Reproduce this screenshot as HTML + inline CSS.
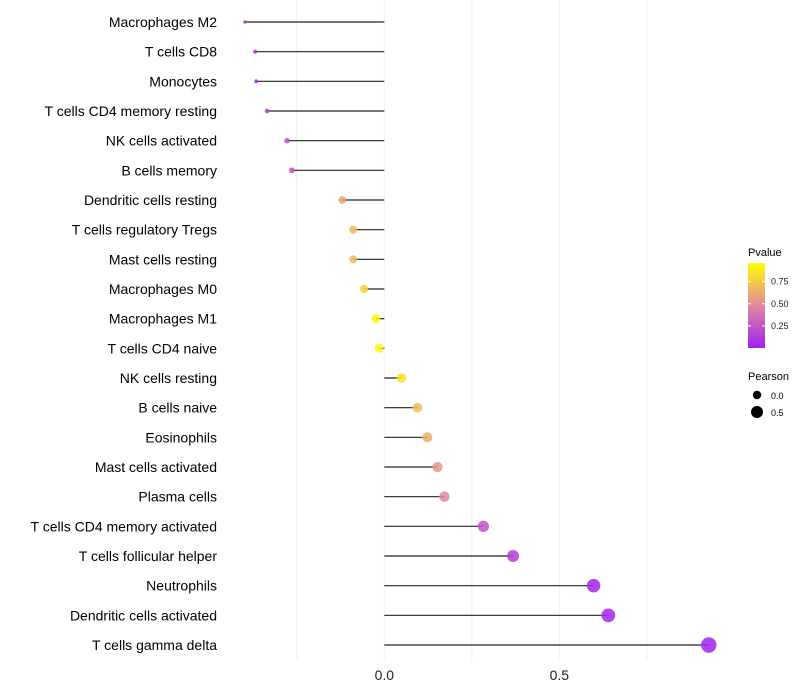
<!DOCTYPE html>
<html><head><meta charset="utf-8"><style>
body{margin:0;background:#fff;}
svg{display:block;font-family:"Liberation Sans",sans-serif;}
</style></head><body>
<svg id="chart" width="800" height="700">
<defs>
<linearGradient id="pg" x1="0" y1="1" x2="0" y2="0">
<stop offset="0" stop-color="#a020f0"/><stop offset="0.5" stop-color="#e0889f"/><stop offset="1" stop-color="#ffff00"/>
</linearGradient>
</defs>
<g id="grid"></g><g id="marks"></g><g id="labels"></g>
<g>
<text x="748" y="256" font-size="11">Pvalue</text>
<rect x="748" y="263" width="17" height="85" fill="url(#pg)"/>
<g id="cbticks"></g>
<text x="748" y="380" font-size="11">Pearson</text>
<circle cx="757" cy="395" r="4.2" fill="#000"/>
<text x="771" y="399" font-size="9">0.0</text>
<circle cx="757" cy="412" r="6" fill="#000"/>
<text x="771" y="416" font-size="9">0.5</text>
</g>
</svg>
<script>
const categories=["Macrophages M2","T cells CD8","Monocytes","T cells CD4 memory resting","NK cells activated","B cells memory","Dendritic cells resting","T cells regulatory  Tregs","Mast cells resting","Macrophages M0","Macrophages M1","T cells CD4 naive","NK cells resting","B cells naive","Eosinophils","Mast cells activated","Plasma cells","T cells CD4 memory activated","T cells follicular helper","Neutrophils","Dendritic cells activated","T cells gamma delta"];
const pearson=[-0.398,-0.369,-0.366,-0.335,-0.278,-0.264,-0.12,-0.089,-0.089,-0.058,-0.024,-0.015,0.049,0.095,0.123,0.152,0.172,0.283,0.368,0.598,0.64,0.927];
const pvalues=[0.06,0.09,0.09,0.13,0.22,0.27,0.62,0.72,0.72,0.82,0.96,0.96,0.88,0.72,0.66,0.56,0.5,0.24,0.14,0.03,0.02,0.005];
const xTicks=[0,0.5];
const gridVals=[-0.25,0.25,0.75];
const cbTicks=[0.25,0.5,0.75];
const NS="http://www.w3.org/2000/svg";
const x=v=>384.3+v*350;
const y=i=>22+i*(623/21);
const rad=v=>Math.sqrt(Math.max(20+43*v,2));
const cy=p=>348-p*88.5;
function hex(c){return c.map(v=>Math.round(v).toString(16).padStart(2,'0')).join('');}
function col(p){const a=[160,32,240],m=[224,136,159],b=[255,255,0];
 let c;if(p<0.5){const t=p/0.5;c=a.map((v,k)=>v+(m[k]-v)*t);}else{const t=(p-0.5)/0.5;c=m.map((v,k)=>v+(b[k]-v)*t);}return '#'+hex(c);}
function mk(t,attrs,parent){const e=document.createElementNS(NS,t);for(const k in attrs)e.setAttribute(k,attrs[k]);parent.appendChild(e);return e;}
const grid=document.getElementById('grid'),marks=document.getElementById('marks'),labels=document.getElementById('labels');
gridVals.concat(xTicks).forEach(v=>{const l=mk('line',{x1:x(v),x2:x(v),y1:0,y2:660,stroke:'#f0f0f0','stroke-width':1},grid);

});
xTicks.forEach(v=>{const t=mk('text',{x:x(v),y:680,'font-size':14,'text-anchor':'middle',fill:'#222'},labels);t.textContent=v.toFixed(1);

});
categories.forEach((c,i)=>{
 const l=mk('line',{x1:x(0),x2:x(pearson[i]),y1:y(i),y2:y(i),stroke:'#222','stroke-width':1.2},marks);
 
 
 const d=mk('circle',{cx:x(pearson[i]),cy:y(i),r:rad(pearson[i]),fill:col(pvalues[i]),'fill-opacity':0.85},marks);
 
 
 const t=mk('text',{x:217,y:y(i)+5,'font-size':14,'text-anchor':'end',fill:'#000'},labels);t.textContent=c;
 
 
});
const cbt=document.getElementById('cbticks');
cbTicks.forEach(p=>{mk('line',{x1:748,x2:751,y1:cy(p),y2:cy(p),stroke:'#fff'},cbt);mk('line',{x1:762,x2:765,y1:cy(p),y2:cy(p),stroke:'#fff'},cbt);
 const t=mk('text',{x:771,y:cy(p)+3,'font-size':9,fill:'#222'},cbt);t.textContent=p.toFixed(2);
 
 });
</script>
</body></html>
